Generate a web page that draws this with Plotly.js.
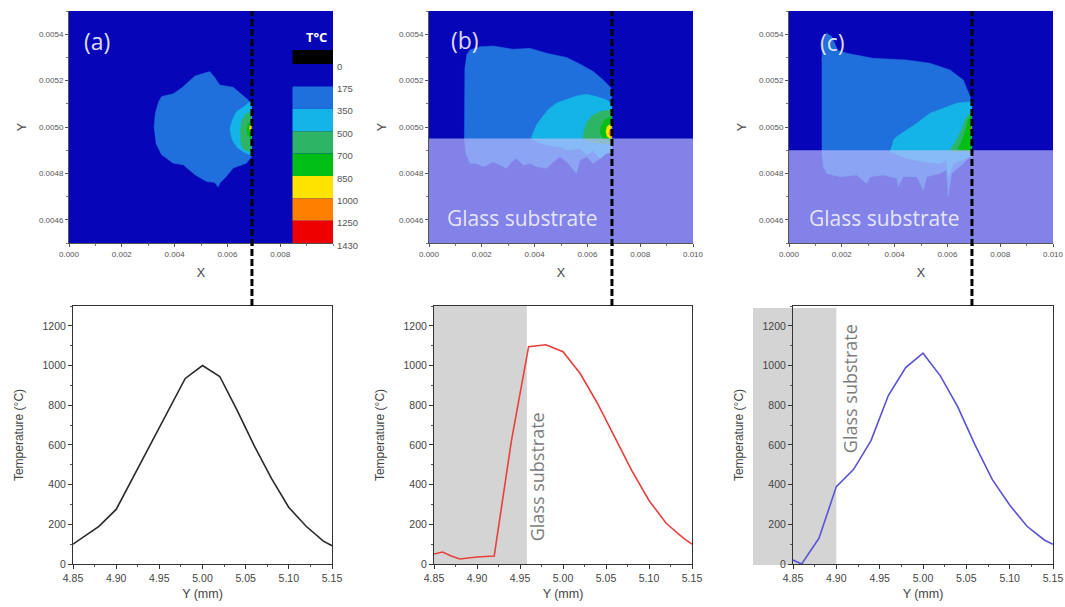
<!DOCTYPE html>
<html><head><meta charset="utf-8">
<script src="https://cdn.plot.ly/plotly-3.0.1.min.js"></script>
<style>html,body{margin:0;padding:0;background:#fff}#chart{width:1065px;height:607px}</style>
</head><body><div id="chart"></div>
<script>
// ---------------- DATA ----------------
// legend levels (T °C) and band colours
const levelLabels = ['0','175','350','500','700','850','1000','1250','1430'];
const bandColors = ['#000000','#0606b8','#1f6fdc','#15b4e6','#2db464','#00be14','#ffe400','#ff8000','#ee0000'];
const bgColor = '#0606b8';

// cross-section position (mm) and glass substrate top (mm)
const cutX = 6.93;
const glassTopB = 4.95;
const glassTopC = 4.90;
const grayEndB = 4.958;
const grayEndC = 4.90;

// Panel (a) contour regions (mm)
const aBlueX = [3.22,3.27,3.40,3.51,3.95,4.30,4.77,5.33,5.50,5.71,6.22,6.53,6.78,6.92,6.92,6.72,6.22,5.96,5.71,5.65,5.52,5.21,4.77,4.33,3.95,3.51,3.29];
const aBlueY = [4.995,5.06,5.11,5.131,5.143,5.171,5.22,5.239,5.217,5.181,5.171,5.143,5.117,5.095,4.873,4.844,4.823,4.787,4.758,4.741,4.761,4.765,4.794,4.837,4.844,4.88,4.93];
const aCyanX = [6.92,6.86,6.60,6.35,6.19,6.10,6.15,6.22,6.37,6.60,6.86,6.92];
const aCyanY = [5.109,5.109,5.085,5.067,5.031,4.995,4.955,4.937,4.912,4.893,4.879,4.879];
const aTealX = [6.92,6.72,6.56,6.48,6.50,6.56,6.72,6.92];
const aTealY = [5.065,5.058,5.03,4.987,4.945,4.912,4.898,4.895];
const aGreenX = [6.92,6.79,6.73,6.78,6.92];
const aGreenY = [5.03,5.015,4.99,4.963,4.95];
const aYellowX = [6.92,6.86,6.84,6.86,6.92];
const aYellowY = [5.013,5.006,4.995,4.985,4.978];
const aOrangeX = [6.92,6.89,6.92];
const aOrangeY = [5.004,4.997,4.99];

// Panel (b)
const bBlueX = [1.42,1.55,1.93,2.43,3.19,3.82,4.45,5.21,5.71,6.22,6.60,6.87,6.92,6.92,6.73,6.47,6.22,5.97,5.72,5.59,5.47,5.22,4.96,4.71,4.46,4.08,3.83,3.57,3.32,3.13,2.94,2.69,2.44,2.06,1.81,1.55,1.40,1.34,1.34,1.36];
const bBlueY = [5.31,5.332,5.346,5.349,5.335,5.339,5.318,5.30,5.272,5.239,5.203,5.171,5.16,4.90,4.887,4.865,4.843,4.872,4.858,4.80,4.815,4.85,4.872,4.85,4.822,4.829,4.843,4.836,4.865,4.85,4.822,4.836,4.85,4.829,4.843,4.844,4.887,4.945,5.117,5.26];
const bCyanX = [3.88,4.07,4.26,4.51,4.83,5.21,5.59,5.96,6.34,6.72,6.92,6.92,6.73,6.47,6.22,5.97,5.72,5.22,4.96,4.46,4.10,3.88];
const bCyanY = [4.955,5.009,5.038,5.074,5.103,5.117,5.134,5.141,5.131,5.117,5.10,4.888,4.888,4.865,4.90,4.879,4.908,4.90,4.915,4.922,4.935,4.95];
const bTealX = [5.84,5.86,5.96,6.15,6.47,6.92,6.92,6.47,6.09,5.84];
const bTealY = [4.948,4.98,5.016,5.045,5.067,5.074,4.925,4.93,4.938,4.948];
const bGreenX = [6.92,6.66,6.53,6.49,6.60,6.92];
const bGreenY = [5.045,5.031,5.002,4.973,4.952,4.938];
const bYellowX = [6.92,6.75,6.70,6.75,6.92];
const bYellowY = [5.016,5.002,4.98,4.959,4.947];
const bOrangeX = [6.92,6.84,6.82,6.86,6.92];
const bOrangeY = [4.995,4.985,4.972,4.96,4.955];

// Panel (c)
const cBlueX = [1.24,1.28,1.42,1.62,1.85,2.19,3.19,4.46,5.34,6.10,6.60,6.86,6.92,6.92,6.86,6.60,6.16,6.03,5.97,5.72,5.22,5.09,4.84,4.33,4.14,4.08,3.57,3.07,2.94,2.56,1.93,1.43,1.30,1.24];
const cBlueY = [5.28,5.36,5.405,5.39,5.33,5.318,5.296,5.289,5.275,5.246,5.203,5.131,5.10,4.87,4.872,4.843,4.80,4.70,4.815,4.80,4.786,4.728,4.786,4.786,4.743,4.779,4.793,4.786,4.757,4.793,4.786,4.80,4.83,4.90];
const cCyanX = [3.95,4.08,4.46,4.84,5.34,5.84,6.35,6.86,6.92,6.92,6.86,6.22,6.03,5.97,5.72,5.09,4.46,3.83,3.90];
const cCyanY = [4.944,4.958,4.987,5.016,5.059,5.081,5.102,5.109,5.11,4.87,4.872,4.843,4.786,4.858,4.843,4.85,4.865,4.894,4.92];
const cTealX = [6.92,6.86,6.67,6.54,6.35,6.10,6.30,6.92];
const cTealY = [5.07,5.059,5.03,4.987,4.944,4.90,4.893,4.895];
const cGreenX = [6.92,6.78,6.70,6.55,6.40,6.92];
const cGreenY = [5.05,5.03,4.99,4.94,4.905,4.90];
const cYellowX = [6.92,6.88,6.92];
const cYellowY = [5.003,4.993,4.983];

// Bottom profiles: Y (mm) vs temperature (°C)
const profA_Y = [4.85,4.88,4.90,4.92,4.94,4.96,4.98,5.00,5.02,5.04,5.06,5.08,5.10,5.12,5.14,5.15];
const profA_T = [100,190,275,440,605,770,935,1000,945,775,595,430,285,190,115,92];
const profB_Y = [4.85,4.86,4.87,4.88,4.90,4.92,4.94,4.96,4.98,5.00,5.02,5.04,5.06,5.08,5.10,5.12,5.14,5.15];
const profB_T = [50,60,40,25,35,40,620,1095,1105,1070,960,810,640,470,320,205,130,100];
const profC_Y = [4.85,4.86,4.88,4.90,4.92,4.94,4.96,4.98,5.00,5.02,5.04,5.06,5.08,5.10,5.12,5.14,5.15];
const profC_T = [20,0,130,390,477,622,849,990,1062,948,793,600,425,297,190,121,99];

const xTickVals = [0,0.002,0.004,0.006,0.008,0.010];
const yTickVals = [0.0046,0.0048,0.0050,0.0052,0.0054];
const tTickVals = [0,200,400,600,800,1000,1200];
const yMmTicks = [4.85,4.90,4.95,5.00,5.05,5.10,5.15];

// ---------------- LAYOUT HELPERS ----------------
const W = 1065, H = 607, MM = 0.001;
const px = v => v / W, py = v => 1 - v / H;
const topY = [py(243), py(11)];
const botY = [py(564), py(306)];
const topDom = [[px(69),px(333)],[px(429),px(693)],[px(789),px(1053)]];
const botDom = [[px(73),px(332)],[px(434),px(692)],[px(793),px(1053)]];
const tickFontTop = {family:'Liberation Sans, Arial, sans-serif', size:8, color:'#555'};
const tickFontBot = {family:'Liberation Sans, Arial, sans-serif', size:10.5, color:'#444'};
const titleFont = {family:'Liberation Sans, Arial, sans-serif', size:12.5, color:'#444'};

function region(xs, ys, color, n) {
  return {type:'scatter', mode:'lines', x: xs.map(v=>v*MM), y: ys.map(v=>v*MM),
    fill:'toself', fillcolor: color, line:{width:0.5, color: color},
    xaxis: n===1?'x':'x'+n, yaxis: n===1?'y':'y'+n, hoverinfo:'skip', showlegend:false};
}
function profile(xs, ys, color, n) {
  return {type:'scatter', mode:'lines', x: xs, y: ys, line:{color: color, width:1.6},
    xaxis:'x'+n, yaxis:'y'+n, hoverinfo:'skip', showlegend:false};
}

const data = [
  region(aBlueX,aBlueY,bandColors[2],1), region(aCyanX,aCyanY,bandColors[3],1),
  region(aTealX,aTealY,bandColors[4],1), region(aGreenX,aGreenY,bandColors[5],1),
  region(aYellowX,aYellowY,bandColors[6],1), region(aOrangeX,aOrangeY,bandColors[7],1),
  region(bBlueX,bBlueY,bandColors[2],2), region(bCyanX,bCyanY,bandColors[3],2),
  region(bTealX,bTealY,bandColors[4],2), region(bGreenX,bGreenY,bandColors[5],2),
  region(bYellowX,bYellowY,bandColors[6],2), region(bOrangeX,bOrangeY,bandColors[7],2),
  region(cBlueX,cBlueY,bandColors[2],3), region(cCyanX,cCyanY,bandColors[3],3),
  region(cTealX,cTealY,bandColors[4],3), region(cGreenX,cGreenY,bandColors[5],3),
  region(cYellowX,cYellowY,bandColors[7],3),
  profile(profA_Y, profA_T, '#2a2a2a', 4),
  profile(profB_Y, profB_T, '#e8403c', 5),
  profile(profC_Y, profC_T, '#5a52d4', 6)
];

function topXAxis(i, tv) {
  return {domain: topDom[i], anchor: i===0?'y':'y'+(i+1), range:[0,0.010],
    tickvals: tv, tickformat:'.3f', ticks:'outside', ticklen:3, tickcolor:'#555',
    showline:true, linecolor:'#555', linewidth:1, showgrid:false, zeroline:false,
    minor:{ticks:'outside', ticklen:2, tick0:0, dtick:0.001, tickcolor:'#777'},
    tickfont: tickFontTop, title:{text:'X', font: titleFont, standoff:10}, fixedrange:true};
}
function topYAxis(i) {
  return {domain: topY, anchor: i===0?'x':'x'+(i+1), range:[0.0045,0.0055],
    tickvals: yTickVals, tickformat:'.4f', ticks:'outside', ticklen:3, tickcolor:'#555',
    showline:true, linecolor:'#555', linewidth:1, showgrid:false, zeroline:false,
    minor:{ticks:'outside', ticklen:2, tick0:0, dtick:0.0001, tickcolor:'#777'},
    tickfont: tickFontTop, title:{text:'Y', font: titleFont, standoff:9}, fixedrange:true};
}
function botXAxis(i) {
  return {domain: botDom[i], anchor:'y'+(i+4), range:[4.85,5.15],
    tickvals: yMmTicks, tickformat:'.2f', ticks:'outside', ticklen:4, tickcolor:'#333',
    showline:true, mirror:true, linecolor:'#333', linewidth:1, showgrid:false, zeroline:false,
    minor:{ticks:'outside', ticklen:2, tick0:4.85, dtick:0.025, tickcolor:'#555'},
    tickfont: tickFontBot, title:{text:'Y (mm)', font: titleFont, standoff:6}, fixedrange:true};
}
function botYAxis(i) {
  return {domain: botY, anchor:'x'+(i+4), range:[0,1300],
    tickvals: tTickVals, ticks:'outside', ticklen:4, tickcolor:'#333',
    showline:true, mirror:true, linecolor:'#333', linewidth:1, showgrid:false, zeroline:false,
    minor:{ticks:'outside', ticklen:2, tick0:0, dtick:100, tickcolor:'#555'},
    tickfont: tickFontBot, title:{text:'Temperature (°C)', font:{...titleFont, size:12}, standoff:16}, fixedrange:true};
}

const shapes = [];
// dark blue backgrounds of the top maps
['', '2', '3'].forEach(s => shapes.push({type:'rect', layer:'below', xref:'x'+s, yref:'y'+s,
  x0:0, x1:0.010, y0:0.0045, y1:0.0055, fillcolor: bgColor, line:{width:0}}));
// gray substrate areas in lower plots
shapes.push({type:'rect', layer:'below', xref:'x5', yref:'y5', x0:4.85, x1:grayEndB, y0:0, y1:1300,
  fillcolor:'#d4d4d4', line:{width:0}});
const grayC1 = botDom[2][0] + (grayEndC-4.85)/0.3*(botDom[2][1]-botDom[2][0]);
shapes.push({type:'rect', layer:'below', xref:'paper', yref:'paper', x0:px(753), x1:grayC1,
  y0:py(565), y1:py(308), fillcolor:'#d4d4d4', line:{width:0}});
// glass substrate overlays
const glassFill = 'rgba(190,190,255,0.68)';
shapes.push({type:'rect', xref:'x2', yref:'y2', x0:0, x1:0.010, y0:0.0045, y1:glassTopB*MM,
  fillcolor: glassFill, line:{width:0}});
shapes.push({type:'rect', xref:'x3', yref:'y3', x0:0, x1:0.010, y0:0.0045, y1:glassTopC*MM,
  fillcolor: glassFill, line:{width:0}});
// legend swatches in panel (a)
shapes.push({type:'rect', xref:'paper', yref:'paper', x0:px(292.5), x1:px(333), y0:py(64), y1:py(50),
  fillcolor: bandColors[0], line:{width:0}});
for (let i = 1; i < bandColors.length; i++) {
  shapes.push({type:'rect', xref:'paper', yref:'paper', x0:px(292.5), x1:px(333),
    y0:py(Math.min(243, 64+22.4*i)), y1:py(64+22.4*(i-1)), fillcolor: bandColors[i], line:{width:0}});
}
// dashed cross-section lines
['', '2', '3'].forEach(s => shapes.push({type:'line', xref:'x'+s, yref:'paper',
  x0:cutX*MM, x1:cutX*MM, y0:botY[1], y1:topY[1], line:{color:'#000', width:3, dash:'7px,3px'}}));

const annFont = 'Open Sans, DejaVu Sans, sans-serif';
const annotations = [];
[['(a)','',1.06,5.371],['(b)','2',1.36,5.375],['(c)','3',1.63,5.366]].forEach(a => annotations.push({
  text:a[0], xref:'x'+a[1], yref:'y'+a[1], x:a[2]*MM, y:a[3]*MM, showarrow:false,
  font:{family:annFont, size:23, color:'rgba(235,235,255,0.95)'}, xanchor:'center', yanchor:'middle'}));
[['2',3.52],['3',3.60]].forEach(a => annotations.push({text:'Glass substrate', xref:'x'+a[0], yref:'y'+a[0],
  x:a[1]*MM, y:4.608*MM, showarrow:false, font:{family:annFont, size:21, color:'rgba(240,240,255,0.92)'},
  xanchor:'center', yanchor:'middle'}));
annotations.push({text:'<b>T°C</b>', xref:'x', yref:'y', x:9.39*MM, y:5.388*MM, showarrow:false,
  font:{family:annFont, size:13, color:'#ffffff'}, xanchor:'center', yanchor:'middle'});
levelLabels.forEach((t, i) => annotations.push({text:t, xref:'paper', yref:'paper', x:px(334.5),
  y:py(66+22.4*i), showarrow:false, xanchor:'left', yanchor:'middle',
  font:{family:'Liberation Sans, Arial, sans-serif', size:9.5, color:'#555'}}));
annotations.push({text:'Glass substrate', xref:'x5', yref:'y5', x:grayEndB+0.012, y:438, textangle:-90,
  showarrow:false, font:{family:annFont, size:18, color:'#7c7c7c'}, xanchor:'center', yanchor:'middle'});
annotations.push({text:'Glass substrate', xref:'x6', yref:'y6', x:grayEndC+0.016, y:882, textangle:-90,
  showarrow:false, font:{family:annFont, size:18, color:'#7c7c7c'}, xanchor:'center', yanchor:'middle'});

const layout = {
  width: W, height: H, margin:{l:0,r:0,t:0,b:0},
  paper_bgcolor:'#ffffff', plot_bgcolor:'rgba(0,0,0,0)', showlegend:false,
  xaxis: topXAxis(0, xTickVals.slice(0,5)), yaxis: topYAxis(0),
  xaxis2: topXAxis(1, xTickVals), yaxis2: topYAxis(1),
  xaxis3: topXAxis(2, xTickVals), yaxis3: topYAxis(2),
  xaxis4: botXAxis(0), yaxis4: botYAxis(0),
  xaxis5: botXAxis(1), yaxis5: botYAxis(1),
  xaxis6: botXAxis(2), yaxis6: botYAxis(2),
  shapes: shapes, annotations: annotations
};
Plotly.newPlot('chart', data, layout, {staticPlot:true, displayModeBar:false});
</script></body></html>
